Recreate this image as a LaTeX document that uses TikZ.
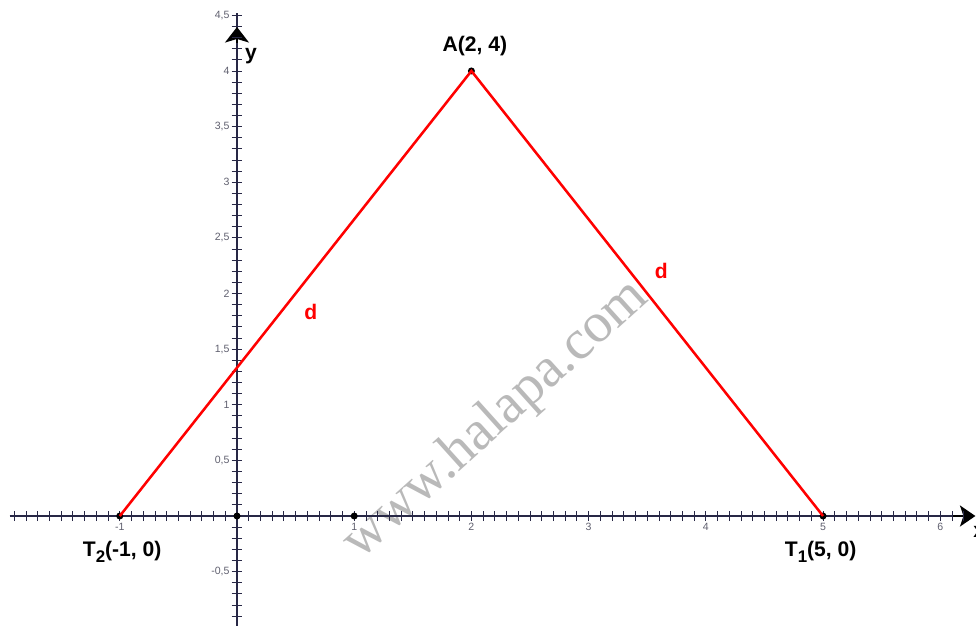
\documentclass[tikz,border=0pt]{standalone}
\usepackage{fontspec}
\setmainfont{Liberation Sans}
\newfontfamily\wmfont{Liberation Serif}
\usetikzlibrary{arrows.meta}

\definecolor{axisnavy}{RGB}{40,40,70}
\definecolor{ticklabel}{RGB}{95,95,110}

\newcommand{\subidx}[1]{\raisebox{-4.5pt}{\fontsize{12}{12}\selectfont\bfseries #1}}

\begin{document}
\begin{tikzpicture}[x=2.93cm, y=2.78125cm, >=Stealth]
    \tikzstyle{axis} = [draw=axisnavy, line width=0.9pt]
    \tikzstyle{tick} = [draw=axisnavy, line width=0.6pt]
    \tikzstyle{tip} = [draw=black, fill=black, line width=1.2pt]
    \tikzstyle{ticktext} = [text=ticklabel, font=\fontsize{7.5}{8}\selectfont, inner sep=1pt]
    \tikzstyle{ptlabel} = [font=\fontsize{15}{17}\selectfont\bfseries]
    \tikzstyle{dlabel} = [text=red, font=\fontsize{15}{17}\selectfont\bfseries]
    \tikzstyle{dot} = [circle, fill=black, inner sep=0pt, minimum size=5pt]
    \tikzstyle{side} = [draw=red, line width=1.8pt]

    \useasboundingbox (-2.022,-0.980) rectangle (6.305,4.638);

    % watermark
    \node [text=gray!55, rotate=42, font=\wmfont\fontsize{40}{40}\selectfont] (wm) at (2.21,0.86) {www.halapa.com};

    % axes
    \path [axis] (-1.94,0) -- (6.25,0);
    \path [axis] (0,-0.99) -- (0,4.52);
    \draw [tip, -{Stealth[length=11pt, width=15pt, inset=2.5pt]}] (6.1,0) -- (6.30,0);
    \draw [tip, -{Stealth[length=11pt, width=17pt, inset=2.5pt]}] (0,4.25) -- (0,4.395);

    % ticks
    \foreach \i in {-19,...,62}
        \path [tick] (\i/10,-0.045) -- (\i/10,0.045);
    \foreach \j in {-9,...,45}
        \path [tick] (-0.045,\j/10) -- (0.045,\j/10);
    \foreach \i in {-1,1,2,3,4,5,6}
        \node [ticktext, below] at (\i,-0.05) {\i};
    \foreach \j/\t in {-0.5/-0{,}5, 0.5/0{,}5, 1/1, 1.5/1{,}5, 2/2, 2.5/2{,}5, 3/3, 3.5/3{,}5, 4/4, 4.5/4{,}5}
        \node [ticktext, left] at (-0.05,\j) {\t};

    \node [ptlabel] (ylab) at (0.12,4.13) {y};
    \node [ptlabel, anchor=north west] (xlab) at (6.24,-0.05) {x};

    % points
    \node [dot] (O) at (0,0) {};
    \node [dot] (U) at (1,0) {};
    \node [dot] (A) at (2,4) {};
    \node [dot] (T1) at (5,0) {};
    \node [dot] (T2) at (-1,0) {};

    \path [side] (T2.center) -- (A.center) -- (T1.center);

    \node [ptlabel] at (2.03,4.22) {A(2, 4)};
    \node [ptlabel] at (-0.98,-0.32) {T\subidx{2}(-1, 0)};
    \node [ptlabel] at (4.98,-0.32) {T\subidx{1}(5, 0)};
    \node [dlabel] at (0.63,1.83) {d};
    \node [dlabel] at (3.62,2.2) {d};
\end{tikzpicture}
\end{document}
